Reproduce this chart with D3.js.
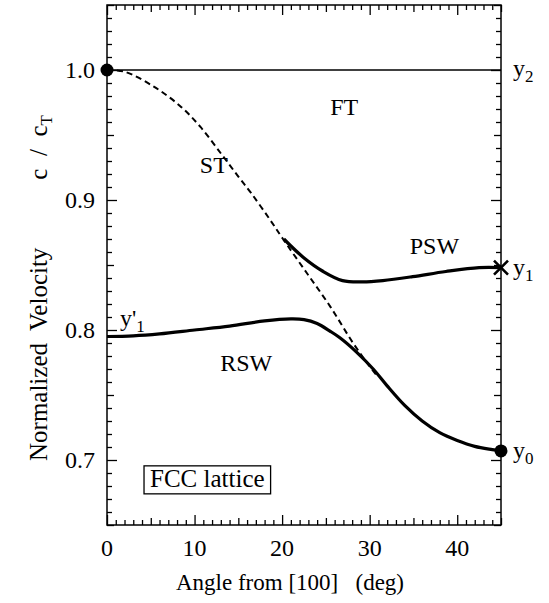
<!DOCTYPE html>
<html><head><meta charset="utf-8">
<script src="https://cdn.jsdelivr.net/npm/d3@7"></script>
<style>body{margin:0;background:#fff}svg{display:block}</style>
</head><body>
<svg id="c" width="549" height="603" font-family="'Liberation Serif','Times New Roman','DejaVu Serif',serif"></svg>
<script>
// ---- data ----
const ftAngles = [0, 45];
const ftValues = [1.0, 1.0];
const stAngles = [0, 2, 5.4, 8.4, 10.7, 13.1, 15, 16.5, 18.6, 20.1, 22.8, 25.5, 28.1, 30, 30.8];
const stValues = [1.0, 0.9987, 0.987, 0.972, 0.956, 0.935, 0.918, 0.905, 0.885, 0.870, 0.844, 0.818, 0.790, 0.772, 0.765];
const rswAngles = [0, 3, 6, 10, 14, 18, 21, 22.5, 24, 25.5, 26.6, 28.5, 30.4, 32, 34, 36, 38, 40, 42, 44, 45];
const rswValues = [0.795, 0.7955, 0.797, 0.800, 0.803, 0.807, 0.8085, 0.808, 0.805, 0.799, 0.794, 0.783, 0.770, 0.757, 0.742, 0.730, 0.721, 0.715, 0.7105, 0.708, 0.707];
const pswAngles = [20.2, 22.4, 24.7, 26.9, 29.2, 31.5, 34.9, 38.7, 42.5, 45];
const pswValues = [0.870, 0.856, 0.845, 0.838, 0.837, 0.838, 0.841, 0.845, 0.848, 0.848];
const dotPoints = [[0, 1.0], [45, 0.707]];
const crossPoints = [[45, 0.848]];
const xTicks = [0, 10, 20, 30, 40];
const yTicks = [0.7, 0.8, 0.9, 1.0];
const regionLabels = [["FT", 27.1, 0.9715], ["ST", 12.2, 0.927], ["PSW", 37.4, 0.865], ["RSW", 15.9, 0.775]];

// ---- layout ----
const svg = d3.select("#c");
const x = d3.scaleLinear().domain([0, 45]).range([107, 501]);
const y = d3.scaleLinear().domain([0.65, 1.05]).range([525, 5]);
const X0 = x.range()[0], X1 = x.range()[1], Y0 = y.range()[0], Y1 = y.range()[1];

// ticks (inward on all four sides)
function ax(gen, scale, vals, size, tx, ty) {
  const g = svg.append("g").attr("transform", `translate(${tx},${ty})`)
    .call(gen(scale).tickValues(vals).tickSize(size).tickFormat(""));
  g.select(".domain").remove();
  g.selectAll("line").attr("stroke", "#000").attr("stroke-width", 1.3);
}
const xMinor = d3.range(0, 46, 1).filter(v => v % 5 !== 0);
const xMid = [5, 15, 25, 35, 45];
const yMinor = d3.range(65, 106, 1).map(v => v / 100).filter(v => Math.round(v * 100) % 5 !== 0);
const yMid = [0.65, 0.75, 0.85, 0.95, 1.05];
[[xMinor, 5], [xMid, 7], [xTicks, 10]].forEach(([v, s]) => {
  ax(d3.axisBottom, x, v, -s, 0, Y0);
  ax(d3.axisTop, x, v, -s, 0, Y1);
});
[[yMinor, 5], [yMid, 7], [yTicks, 10]].forEach(([v, s]) => {
  ax(d3.axisLeft, y, v, -s, X0, 0);
  ax(d3.axisRight, y, v, -s, X1, 0);
});
svg.append("rect").attr("x", X0).attr("y", Y1).attr("width", X1 - X0).attr("height", Y0 - Y1)
  .attr("fill", "none").attr("stroke", "#000").attr("stroke-width", 1.5);

// tick labels
svg.selectAll(".xl").data(xTicks).join("text").attr("x", d => x(d)).attr("y", Y0 + 31)
  .attr("text-anchor", "middle").attr("font-size", 24).text(d => d);
svg.selectAll(".yl").data(yTicks).join("text").attr("x", X0 - 12).attr("y", d => y(d) + 8)
  .attr("text-anchor", "end").attr("font-size", 24).text(d => d.toFixed(1));

// axis titles
svg.append("text").attr("x", 290).attr("y", 590).attr("text-anchor", "middle")
  .attr("font-size", 23).attr("xml:space", "preserve").text("Angle from [100]   (deg)");
const yt = svg.append("text").attr("transform", `translate(47,461) rotate(-90)`)
  .attr("text-anchor", "start").attr("font-size", 25).attr("xml:space", "preserve");
yt.append("tspan").text("Normalized  Velocity");
yt.append("tspan").attr("dx", 68).text("c  /  c");
yt.append("tspan").attr("dy", 5).attr("font-size", 17).text("T");

// curves
const line = d3.line().x(d => x(d[0])).y(d => y(d[1])).curve(d3.curveCatmullRom.alpha(0.5));
svg.append("path").datum(d3.zip(ftAngles, ftValues)).attr("d", line)
  .attr("fill", "none").attr("stroke", "#000").attr("stroke-width", 1.6);
svg.append("path").datum(d3.zip(stAngles, stValues)).attr("d", line)
  .attr("fill", "none").attr("stroke", "#000").attr("stroke-width", 2).attr("stroke-dasharray", "6,4");
svg.append("path").datum(d3.zip(rswAngles, rswValues)).attr("d", line)
  .attr("fill", "none").attr("stroke", "#000").attr("stroke-width", 3.2);
svg.append("path").datum(d3.zip(pswAngles, pswValues)).attr("d", line)
  .attr("fill", "none").attr("stroke", "#000").attr("stroke-width", 3.2);

// markers
svg.selectAll(".dot").data(dotPoints).join("circle").attr("cx", d => x(d[0])).attr("cy", d => y(d[1]))
  .attr("r", 6.5).attr("fill", "#000");
crossPoints.forEach(d => {
  const cx = x(d[0]), cy = y(d[1]), s = 7;
  svg.append("path").attr("d", `M${cx - s},${cy - s}L${cx + s},${cy + s}M${cx - s},${cy + s}L${cx + s},${cy - s}`)
    .attr("stroke", "#000").attr("stroke-width", 2.6);
});

// region labels
svg.selectAll(".rl").data(regionLabels).join("text").attr("x", d => x(d[1])).attr("y", d => y(d[2]) + 8)
  .attr("text-anchor", "middle").attr("font-size", 24).text(d => d[0]);

// endpoint labels
function sublabel(tx, ty, main, sub) {
  const t = svg.append("text").attr("x", tx).attr("y", ty).attr("font-size", 24);
  t.append("tspan").text(main);
  t.append("tspan").attr("dy", 6).attr("font-size", 17).text(sub);
}
sublabel(x(45) + 12, y(1.0) + 6, "y", "2");
sublabel(x(45) + 12, y(0.848) + 7, "y", "1");
sublabel(x(45) + 12, y(0.707) + 7, "y", "0");
sublabel(X0 + 13, y(0.807) + 5, "y'", "1");

// legend box
const bx = x(4), by = y(0.6955);
const lt = svg.append("text").attr("x", bx + 8).attr("y", by + 21).attr("font-size", 25).text("FCC lattice");
const bb = lt.node().getBBox();
svg.append("rect").attr("x", bb.x - 6).attr("y", by).attr("width", bb.width + 12).attr("height", 28)
  .attr("fill", "none").attr("stroke", "#000").attr("stroke-width", 1.3);
</script>
</body></html>
